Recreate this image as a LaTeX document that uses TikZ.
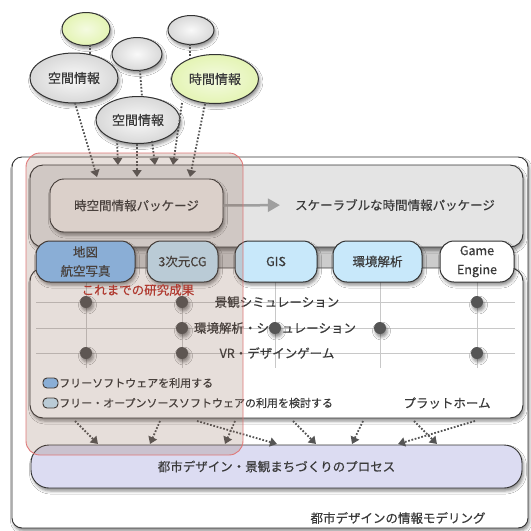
\documentclass[tikz,border=0pt]{standalone}
\usepackage{fontspec}
\setmainfont{Noto Sans CJK JP}[FakeBold=0.4]
\usetikzlibrary{shapes.geometric,arrows.meta,shadows.blur,calc}
\definecolor{txt}{HTML}{3A3A3A}
\definecolor{edge}{HTML}{333333}
\definecolor{upbox}{HTML}{E4E4E4}
\definecolor{pkgc}{HTML}{F2EEEC}
\definecolor{pillblue}{HTML}{8CC4FA}
\definecolor{pillcyan}{HTML}{C8E8FA}
\definecolor{procc}{HTML}{DCDCF2}
\definecolor{blobgray}{HTML}{D8D8D8}
\definecolor{blobgreen}{HTML}{E4F4B4}
\definecolor{dotc}{HTML}{555555}
\definecolor{ovfill}{HTML}{825A46}
\definecolor{ovdraw}{HTML}{E07878}
\definecolor{redtxt}{HTML}{B03A30}
\definecolor{gridc}{HTML}{C8C8C8}
\tikzset{
  shad/.style={blur shadow={shadow xshift=1.5pt, shadow yshift=-3pt, shadow blur radius=3pt, shadow opacity=45}},
  bigbox/.style={draw=edge, line width=0.9pt, rounded corners=13pt, inner sep=0pt, shad},
  pill/.style={draw=edge, line width=1pt, rounded corners=14pt, minimum height=41pt, inner sep=0pt, align=center, text=txt, shad, font=\fontsize{12.5}{19}\selectfont},
  lbl/.style={text=txt, inner sep=0pt},
  blob/.style={ellipse, draw=edge, line width=1pt, inner sep=0pt, text=txt, shad, font=\fontsize{13}{15}\selectfont},
  gblob/.style={blob, inner color=white!85!blobgray, outer color=blobgray},
  grblob/.style={blob, inner color=white!60!blobgreen, outer color=blobgreen},
  darrow/.style={draw=dotc, line width=1.8pt, dash pattern=on 1.7pt off 1.7pt, -{Triangle[length=7pt,width=9pt]}},
  dline/.style={draw=dotc, line width=1.8pt, dash pattern=on 1.7pt off 1.7pt},
  gridline/.style={draw=gridc, line width=0.9pt},
  gdot/.style={circle, fill=dotc, minimum size=12pt, inner sep=0pt, shad},
  legicon/.style={draw=edge, line width=0.9pt, rounded corners=4pt, minimum width=15pt, minimum height=10pt, inner sep=0pt},
}
\begin{document}
\begin{tikzpicture}[x=1pt,y=-1pt, font=\fontsize{12.5}{15}\selectfont]
\useasboundingbox (0,0) rectangle (531,531);
\fill[white] (0,0) rectangle (531,531);

% outer frame
\node[bigbox, fill=white, rounded corners=10pt, minimum width=516pt, minimum height=371pt] (outer) at (270,342.5) {};
% band between upper box and platform
\node[fill=gray!40, minimum width=472pt, minimum height=24pt, inner sep=0pt] (band) at (276,257) {};
% upper box
\node[bigbox, fill=upbox, minimum width=493pt, minimum height=82pt] (upper) at (276.5,206) {};
% platform box
\node[bigbox, fill=white, minimum width=493pt, minimum height=150pt] (plat) at (276.5,343) {};

% grid in platform
\coordinate (hl1) at (36,302); \coordinate (hr1) at (515,302);
\coordinate (hl2) at (36,328); \coordinate (hr2) at (515,328);
\coordinate (hl3) at (36,353); \coordinate (hr3) at (515,353);
\draw[gridline] (hl1) -- (hr1);
\draw[gridline] (hl2) -- (hr2);
\draw[gridline] (hl3) -- (hr3);
\foreach \xx/\nm in {86/v1,182/v2,275/v3,380/v4,477/v5}{
  \coordinate (\nm t) at (\xx,282);
  \coordinate (\nm b) at (\xx,368);
  \draw[gridline] (\nm t) -- (\nm b);
}
\node[lbl] (row1) at (277,302) {景観シミュレーション};
\node[lbl] (row2) at (275,328) {環境解析・シミュレーション};
\node[lbl] (row3) at (277,353) {VR・デザインゲーム};
\node[gdot] (d11) at (86,302) {};
\node[gdot] (d12) at (182,302) {};
\node[gdot] (d15) at (477,302) {};
\node[gdot] (d22) at (182,328) {};
\node[gdot] (d23) at (275,328) {};
\node[gdot] (d24) at (380,328) {};
\node[gdot] (d31) at (86,353) {};
\node[gdot] (d32) at (182,353) {};
\node[gdot] (d35) at (477,353) {};

% legend
\node[legicon, fill=pillblue] (leg1) at (50.5,383) {};
\node[legicon, fill=pillcyan] (leg2) at (50.5,403) {};
\node[lbl, anchor=west, font=\fontsize{11}{13}\selectfont] (legt1) at (59,383) {フリーソフトウェアを利用する};
\node[lbl, anchor=west, font=\fontsize{11}{13}\selectfont] (legt2) at (59,403) {フリー・オープンソースソフトウェアの利用を検討する};
\node[lbl] (platlbl) at (447,403) {プラットホーム};

% pills
\node[pill, fill=pillblue, minimum width=99pt] (map) at (85.5,261.5) {地図\\航空写真};
\node[pill, fill=pillcyan, minimum width=71pt] (cg) at (182.5,261.5) {3次元CG};
\node[pill, fill=pillcyan, minimum width=82pt] (gis) at (276,261.5) {GIS};
\node[pill, fill=pillcyan, minimum width=89pt] (env) at (377.5,261.5) {環境解析};
\node[pill, fill=white, minimum width=74pt] (game) at (477,261.5) {Game\\Engine};

% package
\node[bigbox, fill=pkgc, rounded corners=14pt, minimum width=173pt, minimum height=53pt, text=txt] (pkg) at (136.5,205.5) {時空間情報パッケージ};
\node[lbl] (scal) at (395,205) {スケーラブルな時間情報パッケージ};
\draw[draw=gray!75, line width=2.5pt, shorten >=15pt, -{Triangle[length=12pt,width=13pt]}] (pkg.east) -- (scal.west);

% process
\node[bigbox, fill=procc, rounded corners=18pt, minimum width=491pt, minimum height=43pt, text=txt] (proc) at (276.5,466.5) {都市デザイン・景観まちづくりのプロセス};
\node[lbl] (title) at (398,518) {都市デザインの情報モデリング};

% arrows platform -> process
\foreach \i/\sx/\ex in {1/75/98, 2/160/150, 3/197/277, 4/235/225, 5/293/316, 6/363/352, 7/414/437, 8/475/398}{
  \coordinate (ps\i) at (\sx,421);
  \coordinate (pe\i) at (\ex,444);
  \draw[darrow] (ps\i) -- (pe\i);
}

% blobs
\node[grblob, minimum width=48pt, minimum height=33pt] (gsmall) at (86,29) {};
\node[gblob, minimum width=46pt, minimum height=29pt] (rsmall) at (191,30) {};
\node[gblob, minimum width=50pt, minimum height=33pt] (msmall) at (137,54) {};
\coordinate (gs1) at (90,45); \coordinate (gs2) at (90,70);
\coordinate (rs1) at (190,44); \coordinate (rs2) at (190,70);
\coordinate (ms1) at (140,70); \coordinate (ms2) at (143,110);
\draw[dline] (gs1) -- (gs2);
\draw[dline] (rs1) -- (rs2);
\draw[dline] (ms1) -- (ms2);
\node[gblob, minimum width=88pt, minimum height=50pt] (bleft) at (74,78) {空間情報};
\node[grblob, minimum width=87pt, minimum height=49pt] (bright) at (215,79) {時間情報};
\node[gblob, minimum width=84pt, minimum height=47pt] (bcent) at (138,120) {空間情報};

% arrows blobs -> package
\coordinate (b1s) at (75,103); \coordinate (b1e) at (97,177);
\coordinate (b2s) at (117,140); \coordinate (b2e) at (118,165);
\coordinate (b3s) at (137,144); \coordinate (b3e) at (137,177);
\coordinate (b4s) at (152,141); \coordinate (b4e) at (155,165);
\coordinate (b5s) at (182,103); \coordinate (b5e) at (173,165);
\coordinate (b6s) at (205,104); \coordinate (b6e) at (190,177);
\foreach \i in {1,...,6}{ \draw[darrow] (b\i s) -- (b\i e); }

% red overlay
\node[draw=ovdraw, line width=0.9pt, fill=ovfill, fill opacity=0.2, rounded corners=14pt, minimum width=217pt, minimum height=302pt, inner sep=0pt] (overlay) at (134.5,304) {};
\node[text=redtxt, inner sep=0pt] (research) at (138,290) {これまでの研究成果};
\end{tikzpicture}
\end{document}
